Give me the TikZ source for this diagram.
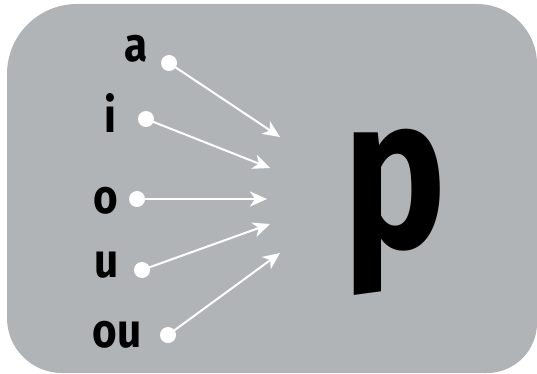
\documentclass[tikz,border=0pt]{standalone}
\usepackage{fontspec}
\setmainfont{Fira Sans}
\usetikzlibrary{arrows.meta}
\definecolor{boxgray}{RGB}{177,180,183}
\newcommand{\narrowtext}[1]{\scalebox{0.88}[1]{#1}}
\tikzset{
  lett/.style={font=\fontsize{48}{48}\selectfont\bfseries, inner sep=0pt, anchor=base, text=black},
  vdot/.style={circle, fill=white, minimum size=16pt, inner sep=0pt},
  arr/.style={draw=white, line width=2pt, -{Stealth[length=17pt,width=15pt,inset=5pt]}},
}
\begin{document}
\begin{tikzpicture}[x=1pt,y=-1pt]
\useasboundingbox (0,0) rectangle (537,374);
\fill[boxgray] (7,200) [rounded corners=70pt] -- (7,4) [rounded corners=60pt] -- (537,4) [rounded corners=50pt] -- (537,373) [rounded corners=55pt] -- (7,373) [sharp corners] -- cycle;
\node[lett] (la) at (136,62) {\narrowtext{a}};
\node[lett] (li) at (110,133) {\narrowtext{i}};
\node[lett] (lo) at (106,213) {\narrowtext{o}};
\node[lett] (lu) at (107,277) {\narrowtext{u}};
\node[lett] (lou) at (117,347) {\narrowtext{ou}};
\node[font=\fontsize{216}{216}\selectfont\bfseries, inner sep=0pt, anchor=base] (lp) at (395,247) {\scalebox{0.8}[1]{p}};
\node[vdot] (da) at (169,63) {};
\node[vdot] (di) at (146,119) {};
\node[vdot] (do) at (137,199) {};
\node[vdot] (du) at (142,270) {};
\node[vdot] (dou) at (168,335) {};
\coordinate (ta) at (280,137);
\coordinate (ti) at (270,168);
\coordinate (to) at (267,199);
\coordinate (tu) at (270,224);
\coordinate (tou) at (280,253);
\draw[arr] (da.center) -- (ta);
\draw[arr] (di.center) -- (ti);
\draw[arr] (do.center) -- (to);
\draw[arr] (du.center) -- (tu);
\draw[arr] (dou.center) -- (tou);
\end{tikzpicture}
\end{document}
